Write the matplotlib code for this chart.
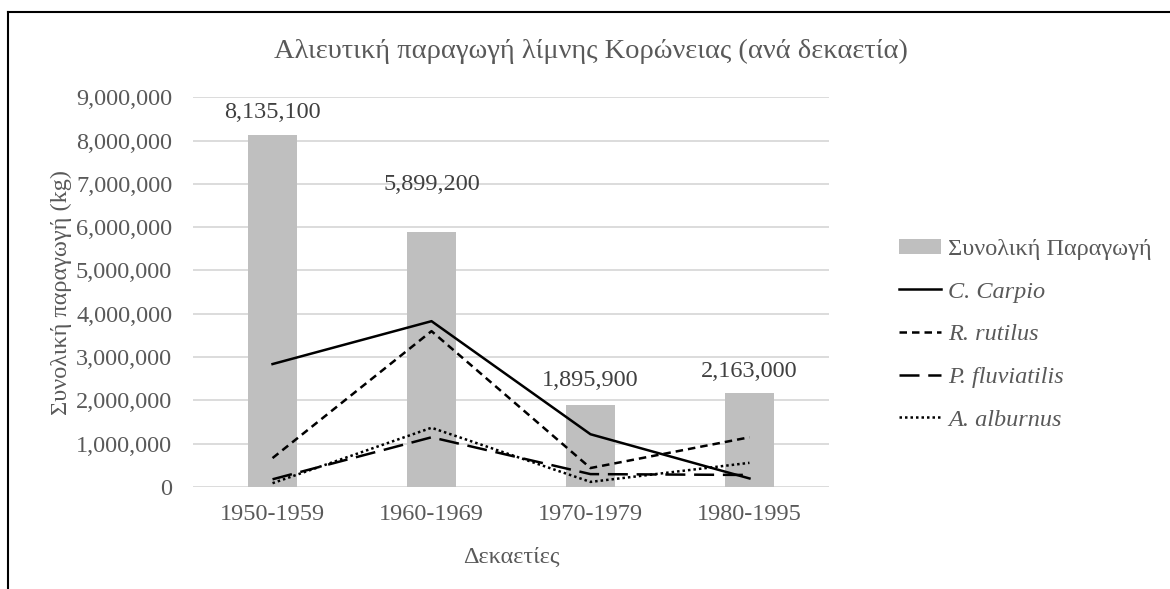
import matplotlib
matplotlib.use("Agg")
import matplotlib.pyplot as plt
from matplotlib.lines import Line2D
from matplotlib.patches import Patch
from matplotlib.ticker import FuncFormatter
import numpy as np

decades = ["1950-1959", "1960-1969", "1970-1979", "1980-1995"]
total = [8135100, 5899200, 1895900, 2163000]
c_carpio = [2840000, 3830000, 1220000, 200000]
r_rutilus = [670000, 3600000, 440000, 1150000]
p_fluviatilis = [180000, 1150000, 300000, 280000]
a_alburnus = [90000, 1370000, 120000, 560000]

# vertical gap (data units) between each bar top and its value label
label_gap = [500000, 1080000, 560000, 510000]

plt.rcParams["font.family"] = ["Liberation Serif", "DejaVu Serif"]
text_col = "#595959"
fs = 17.5

fig = plt.figure(figsize=(11.7, 5.89), dpi=100)
ax = fig.add_axes([0.165, 0.173, 0.5435, 0.662])

x = np.arange(len(decades))
ax.bar(x, total, width=0.31, color="#bfbfbf", zorder=2)
for xi, v, g in zip(x, total, label_gap):
    ax.text(xi, v + g, f"{v:,}", ha="center", va="center",
            fontsize=fs, color="#404040")

lw = 1.8
ax.plot(x, c_carpio, color="black", lw=lw, ls="-", zorder=3)
ax.plot(x, r_rutilus, color="black", lw=lw, ls=(0, (3, 2)), zorder=3)
ax.plot(x, p_fluviatilis, color="black", lw=lw, ls=(0, (8, 3.5)), zorder=3)
ax.plot(x, a_alburnus, color="black", lw=lw, ls=(0, (1, 1.2)), zorder=3)

ax.set_xlim(-0.5, 3.5)
ax.set_ylim(0, 9000000)
ax.set_yticks(np.arange(0, 9000001, 1000000))
ax.yaxis.set_major_formatter(FuncFormatter(lambda v, p: f"{int(v):,}"))
ax.set_xticks(x)
ax.set_xticklabels(decades)
ax.tick_params(axis="both", length=0, labelsize=fs, labelcolor=text_col)
ax.tick_params(axis="x", pad=12)
ax.tick_params(axis="y", pad=15)
ax.grid(axis="y", color="#d9d9d9", lw=1.3, zorder=0)
ax.set_axisbelow(True)
for s in ax.spines.values():
    s.set_visible(False)

ax.set_ylabel("Συνολική παραγωγή (kg)", fontsize=fs, color=text_col, labelpad=3)
ax.set_xlabel("Δεκαετίες", fontsize=fs, color=text_col, labelpad=16)

fig.text(0.505, 0.912, "Αλιευτική παραγωγή λίμνης Κορώνειας (ανά δεκαετία)",
         ha="center", va="center", fontsize=20.5, color=text_col)

handles = [
    Patch(facecolor="#bfbfbf", edgecolor="none"),
    Line2D([], [], color="black", lw=lw, ls="-"),
    Line2D([], [], color="black", lw=lw, ls=(0, (3, 2))),
    Line2D([], [], color="black", lw=lw, ls=(0, (8, 3.5))),
    Line2D([], [], color="black", lw=lw, ls=(0, (1, 1.2))),
]
labels = ["Συνολική Παραγωγή", "C. Carpio", "R. rutilus", "P. fluviatilis", "A. alburnus"]
leg = fig.legend(handles, labels, loc="center left", bbox_to_anchor=(0.750, 0.432),
                 frameon=False, fontsize=fs, handlelength=1.7, handletextpad=0.3,
                 labelspacing=0.88, handleheight=0.6)
for i, t in enumerate(leg.get_texts()):
    t.set_color(text_col)
    if i > 0:
        t.set_fontstyle("italic")

# outer frame
fig.add_artist(Line2D([8 / 1170, 8 / 1170], [0, 1 - 12 / 589], color="black", lw=1.5,
                      transform=fig.transFigure))
fig.add_artist(Line2D([8 / 1170, 1], [1 - 12 / 589, 1 - 12 / 589], color="black", lw=1.5,
                      transform=fig.transFigure))

fig.savefig("out.png", dpi=100)
